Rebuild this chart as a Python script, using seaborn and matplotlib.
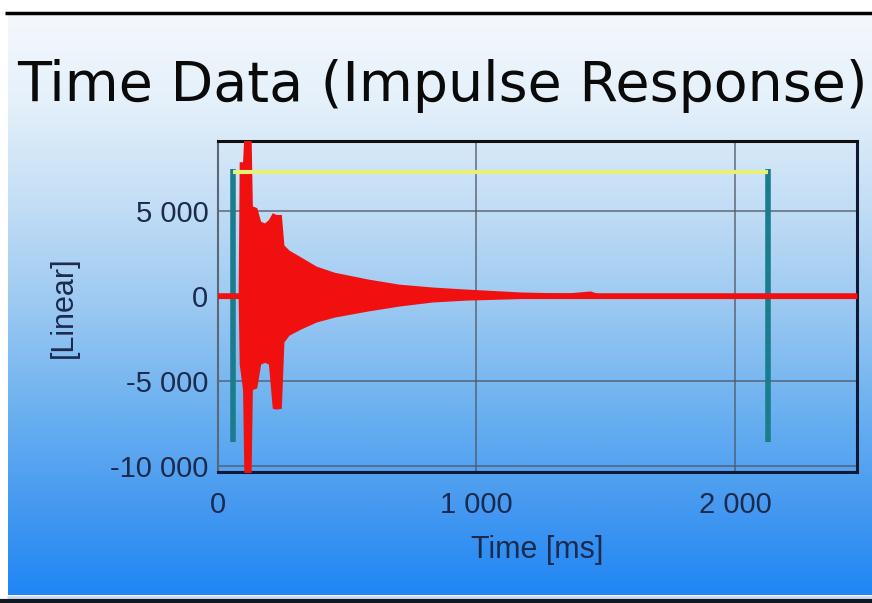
import numpy as np
import matplotlib
matplotlib.use("Agg")
import matplotlib.pyplot as plt
import seaborn as sns
from matplotlib.colors import LinearSegmentedColormap
from matplotlib.ticker import FuncFormatter

# ---- data ----
env_time_ms = [0, 78, 82, 95, 100, 128, 133, 150, 165, 180, 195, 210, 225, 245, 255,
               275, 320, 380, 450, 580, 700, 830, 960, 1170, 1350, 1440, 1470, 1500, 1700, 2472]
env_upper = [150, 150, 7900, 7900, 9500, 9500, 5300, 5200, 4400, 4300, 4500, 4900, 4800, 4800, 3000,
             2700, 2300, 1760, 1400, 1000, 700, 530, 410, 240, 180, 300, 150, 150, 150, 150]
env_lower = [-150, -150, -4000, -5500, -10500, -10500, -5500, -5400, -4000, -3900, -4000, -6600, -6650, -6600, -2700,
             -2300, -1940, -1530, -1240, -880, -590, -350, -240, -150, -150, -150, -150, -150, -150, -150]

cursor_times = [58, 2128]
cursor_top = [7500, 7500]
cursor_bottom = [-8600, -8600]
window_level = 7300

x_ticks = [0, 1000, 2000]
y_ticks = [-10000, -5000, 0, 5000]

title = "Time Data (Impulse Response)"
x_label = "Time [ms]"
y_label = "[Linear]"

# ---- figure ----
sns.set_style("white")
plt.rcParams['font.family'] = ['Liberation Sans', 'DejaVu Sans']

W, H = 872, 603
fig = plt.figure(figsize=(W / 100, H / 100), dpi=100)
fig.patch.set_facecolor("white")

# gradient background panel
bg = fig.add_axes([0, 0, 1, 1], zorder=-10)
bg.set_xlim(0, W)
bg.set_ylim(H, 0)
bg.axis("off")
cmap = LinearSegmentedColormap.from_list(
    "bgblue",
    [(0.0, "#f4f8fc"), (0.15, "#e4f0fa"), (0.33, "#c2ddf5"), (0.5, "#9cc9f2"),
     (0.68, "#6cb1f0"), (0.85, "#4599f0"), (1.0, "#1f86f5")])
grad = np.linspace(0, 1, 256).reshape(-1, 1)
bg.imshow(grad, cmap=cmap, aspect="auto", extent=[8, W, 595, 15], zorder=0)
bg.plot([5, W], [13, 13], color="black", lw=2.5, solid_capstyle="butt")
bg.plot([8, W], [597, 597], color="#c8dcf0", lw=2)
bg.plot([0, W], [601, 601], color="#101820", lw=3)

# main axes
left, right, top, bottom = 218, 857, 141, 472
aw, ah = right - left, bottom - top
ax = fig.add_axes([left / W, 1 - bottom / H, aw / W, ah / H])
ax.set_facecolor("none")

red = "#f01010"
ax.fill_between(env_time_ms, env_lower, env_upper, color=red, lw=0, zorder=3)
sns.lineplot(x=env_time_ms, y=[0] * len(env_time_ms), ax=ax, color=red, lw=4, zorder=3)
ax.hlines(window_level, cursor_times[0], cursor_times[1], color="#e6f07a", lw=3, zorder=4)
ax.vlines(cursor_times, cursor_bottom, cursor_top, color="#1a7c8c", lw=4, zorder=2)

ax.set_xlim(0, 2472)
ax.set_ylim(-10350, 9120)
ax.set_xticks(x_ticks)
ax.set_yticks(y_ticks)

fmt = FuncFormatter(lambda v, p: f"{int(v):,}".replace(",", " "))
ax.xaxis.set_major_formatter(fmt)
ax.yaxis.set_major_formatter(fmt)

ax.grid(True, color="#4e5866", lw=1.2, alpha=0.8)
ax.set_axisbelow(True)

lab_color = "#1c2a4e"
ax.tick_params(axis="y", direction="out", length=6, width=1, color="#4e5866",
               labelsize=21, labelcolor=lab_color, pad=1)
ax.tick_params(axis="x", direction="in", length=6, width=1, color="#4e5866",
               labelsize=21, labelcolor=lab_color, pad=14)

for side, c, w in [("top", "#101010", 2.2), ("right", "#101838", 2.2),
                   ("bottom", "#101838", 2.2), ("left", "#5a6878", 1.5)]:
    ax.spines[side].set_visible(True)
    ax.spines[side].set_color(c)
    ax.spines[side].set_linewidth(w)

ax.set_xlabel(x_label, fontsize=22, color=lab_color, va="top")
ax.xaxis.set_label_coords((537 - left) / aw, (bottom - 535) / ah)
ax.set_ylabel(y_label, fontsize=22, color=lab_color)
ax.yaxis.set_label_coords((79 - left) / aw, (bottom - 307) / ah)

fig.text(442 / W, 1 - 86 / H, title, ha="center", va="center", fontsize=40,
         family="DejaVu Sans", color="#0a0a0a")

fig.savefig("out.png", dpi=100)
